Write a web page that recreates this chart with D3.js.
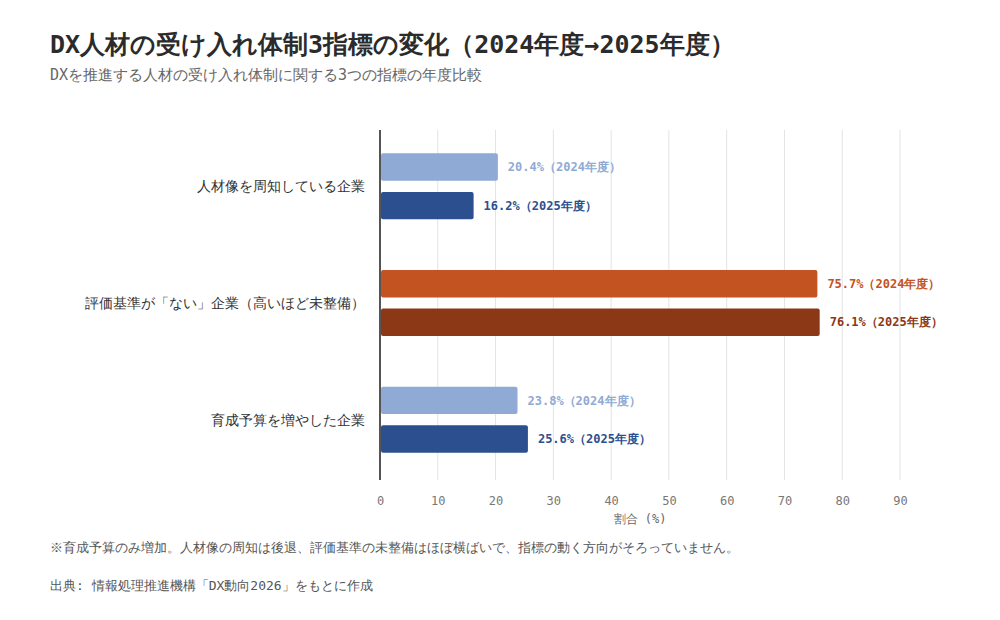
<!DOCTYPE html>
<html lang="ja">
<head>
<meta charset="utf-8">
<script src="https://cdn.jsdelivr.net/npm/d3@7"></script>
<style>
  body { margin: 0; background: #fff; }
  svg text { font-family: monospace; }
</style>
</head>
<body>
<svg id="chart" width="1000" height="620"></svg>
<script>
const categories = ['人材像を周知している企業', '評価基準が「ない」企業（高いほど未整備）', '育成予算を増やした企業'];
const years = ['2024年度', '2025年度'];
const values2024 = [20.4, 75.7, 23.8];
const values2025 = [16.2, 76.1, 25.6];
const xTicks = [0, 10, 20, 30, 40, 50, 60, 70, 80, 90];

const BLUE = ['#8FAAD5', '#2C4F8F'];
const ORANGE = ['#C45322', '#8C3817'];
const HIGHLIGHT = 1;
const FONT = 'monospace';

const main = () => {
  const svg = d3.select('#chart');
  const margin = { top: 130, left: 380, bottom: 480 };

  const x = d3.scaleLinear().domain([0, 90]).range([margin.left, 900]);
  const y = d3.scaleBand().domain(categories).range([128, 478]);
  const inner = d3.scaleBand().domain(years)
    .range([y.bandwidth() / 2 - 33, y.bandwidth() / 2 + 33])
    .paddingInner(0.29);

  // titles
  svg.append('text').attr('x', 50).attr('y', 53)
    .attr('font-size', 25).attr('font-weight', 'bold').attr('fill', '#2b2b2b')
    .text('DX人材の受け入れ体制3指標の変化（2024年度→2025年度）');
  svg.append('text').attr('x', 50).attr('y', 80)
    .attr('font-size', 15).attr('fill', '#666')
    .text('DXを推進する人材の受け入れ体制に関する3つの指標の年度比較');

  // grid
  svg.append('g').selectAll('line')
    .data(xTicks.filter((t) => t > 0))
    .enter().append('line')
    .attr('x1', (d) => x(d)).attr('x2', (d) => x(d))
    .attr('y1', margin.top).attr('y2', margin.bottom)
    .attr('stroke', '#e3e3e3').attr('stroke-width', 1);

  // x axis
  const xAxis = svg.append('g')
    .attr('transform', `translate(0, ${margin.bottom})`)
    .call(d3.axisBottom(x).tickValues(xTicks).tickSize(0).tickPadding(16));
  xAxis.select('.domain').remove();
  xAxis.selectAll('text').attr('font-size', 12).attr('fill', '#777')
    .style('font-family', FONT);

  svg.append('text').attr('x', 640).attr('y', 523)
    .attr('text-anchor', 'middle').attr('font-size', 12).attr('fill', '#666')
    .text('割合 (%)');

  // bars
  const rows = categories.map((c, i) => ({
    category: c,
    index: i,
    items: [
      { year: years[0], value: values2024[i] },
      { year: years[1], value: values2025[i] },
    ],
  }));

  const groups = svg.append('g').selectAll('g')
    .data(rows).enter().append('g')
    .attr('transform', (d) => `translate(0, ${y(d.category)})`);

  const colorOf = (row, j) => (row.index === HIGHLIGHT ? ORANGE[j] : BLUE[j]);

  groups.each(function (row) {
    const g = d3.select(this);
    row.items.forEach((item, j) => {
      const c = colorOf(row, j);
      g.append('rect')
        .attr('x', x(0) + 1)
        .attr('y', inner(item.year))
        .attr('width', x(item.value) - x(0) - 1)
        .attr('height', inner.bandwidth())
        .attr('rx', 2)
        .attr('fill', c);
      g.append('text')
        .attr('x', x(item.value) + 10)
        .attr('y', inner(item.year) + inner.bandwidth() / 2)
        .attr('dy', '0.35em')
        .attr('font-size', 12).attr('font-weight', 'bold').attr('fill', c)
        .text(`${item.value.toFixed(1)}%（${item.year}）`);
    });
    g.append('text')
      .attr('x', 365)
      .attr('y', y.bandwidth() / 2)
      .attr('dy', '0.35em')
      .attr('text-anchor', 'end')
      .attr('font-size', 14).attr('fill', '#333')
      .text(row.category);
  });

  // y axis line
  svg.append('line')
    .attr('x1', x(0)).attr('x2', x(0))
    .attr('y1', margin.top).attr('y2', margin.bottom)
    .attr('stroke', '#555').attr('stroke-width', 2);

  // notes
  svg.append('text').attr('x', 50).attr('y', 552)
    .attr('font-size', 13).attr('fill', '#555')
    .text('※育成予算のみ増加。人材像の周知は後退、評価基準の未整備はほぼ横ばいで、指標の動く方向がそろっていません。');
  svg.append('text').attr('x', 50).attr('y', 590)
    .attr('font-size', 13).attr('fill', '#555')
    .text('出典: 情報処理推進機構「DX動向2026」をもとに作成');
};
main();
</script>
</body>
</html>
